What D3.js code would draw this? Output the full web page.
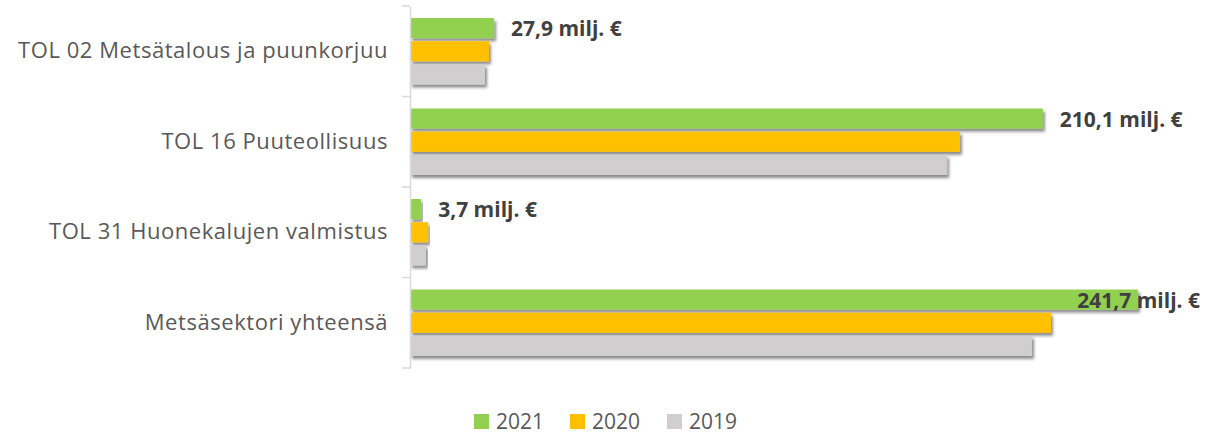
<!DOCTYPE html>
<html>
<head>
<meta charset="utf-8">
<script src="https://cdn.jsdelivr.net/npm/d3@7"></script>
<style>
  body { margin: 0; background: #fff; }
  svg { display: block; font-family: "Open Sans", sans-serif; }
</style>
</head>
<body>
<svg id="chart" width="1205" height="435"></svg>
<script>
// categories and series
const categories = ["TOL 02 Metsätalous ja puunkorjuu", "TOL 16 Puuteollisuus", "TOL 31 Huonekalujen valmistus", "Metsäsektori yhteensä"];
const years = ["2021", "2020", "2019"];
const values2021 = [27.9, 210.1, 3.7, 241.7];
const values2020 = [26.2, 182.6, 6.0, 212.8];
const values2019 = [24.9, 178.3, 5.3, 206.5];
const labels2021 = ["27,9 milj. €", "210,1 milj. €", "3,7 milj. €", "241,7 milj. €"];
const colors = ["#92D050", "#FFC000", "#D0CECE"];

const series = [values2021, values2020, values2019];

const svg = d3.select("#chart");
const width = 1205;

// filter for the drop shadow on bars
const defs = svg.append("defs");
const f = defs.append("filter").attr("id", "shadow")
    .attr("x", "-5%").attr("y", "-30%").attr("width", "115%").attr("height", "180%");
f.append("feDropShadow")
    .attr("dx", 2).attr("dy", 3).attr("stdDeviation", 1.6)
    .attr("flood-color", "#000").attr("flood-opacity", 0.45);

const x = d3.scaleLinear().domain([0, 241.7]).range([410, 1138]);
const y = d3.scaleBand().domain(categories).range([6, 368]).paddingInner(0);
const yInner = d3.scaleBand().domain(years).range([12, 78.5]).paddingInner(0.13);

// bars
const groups = svg.append("g").selectAll("g")
    .data(categories)
    .enter().append("g")
    .attr("transform", d => `translate(0,${y(d)})`);

groups.selectAll("rect")
    .data((d, i) => years.map((yr, j) => ({ yr, v: series[j][i], c: colors[j] })))
    .enter().append("rect")
    .attr("x", x(0))
    .attr("y", d => yInner(d.yr))
    .attr("width", d => x(d.v) - x(0))
    .attr("height", yInner.bandwidth())
    .attr("fill", d => d.c)
    .attr("filter", "url(#shadow)");

// axis
const axis = svg.append("g").attr("transform", `translate(${x(0)},0)`)
    .call(d3.axisLeft(y).tickSize(0).tickPadding(22));
axis.select(".domain").attr("stroke", "#D9D9D9").attr("stroke-width", 1.5);
axis.selectAll(".tick text")
    .attr("font-size", 22).attr("fill", "#595959")
    .attr("letter-spacing", 0.55)
    .attr("font-family", "'Open Sans', sans-serif");

// band boundary ticks
const bounds = y.domain().map(d => y(d)).concat([y.range()[1]]);
svg.append("g").selectAll("line")
    .data(bounds)
    .enter().append("line")
    .attr("x1", x(0) - 8).attr("x2", x(0))
    .attr("y1", d => d).attr("y2", d => d)
    .attr("stroke", "#D9D9D9").attr("stroke-width", 1.5);

// value labels for 2021
svg.append("g").selectAll("text")
    .data(categories)
    .enter().append("text")
    .attr("font-size", 21)
    .attr("font-weight", "bold")
    .attr("fill", "#404040")
    .attr("dy", "0.35em")
    .attr("y", d => y(d) + yInner("2021") + yInner.bandwidth() / 2 + 1)
    .text((d, i) => labels2021[i])
    .attr("x", function (d, i) {
        const w = this.getComputedTextLength();
        return Math.min(x(values2021[i]) + 17, width - 5 - w);
    });

// legend
const legend = svg.append("g").attr("transform", "translate(474,414)");
const legendX = [0, 96, 193];
years.forEach((yr, i) => {
    const g = legend.append("g").attr("transform", `translate(${legendX[i]},0)`);
    g.append("rect").attr("width", 15).attr("height", 15).attr("fill", colors[i]);
    g.append("text").attr("x", 22).attr("y", 7.5).attr("dy", "0.35em")
        .attr("font-size", 21).attr("fill", "#595959").text(yr);
});
</script>
</body>
</html>
